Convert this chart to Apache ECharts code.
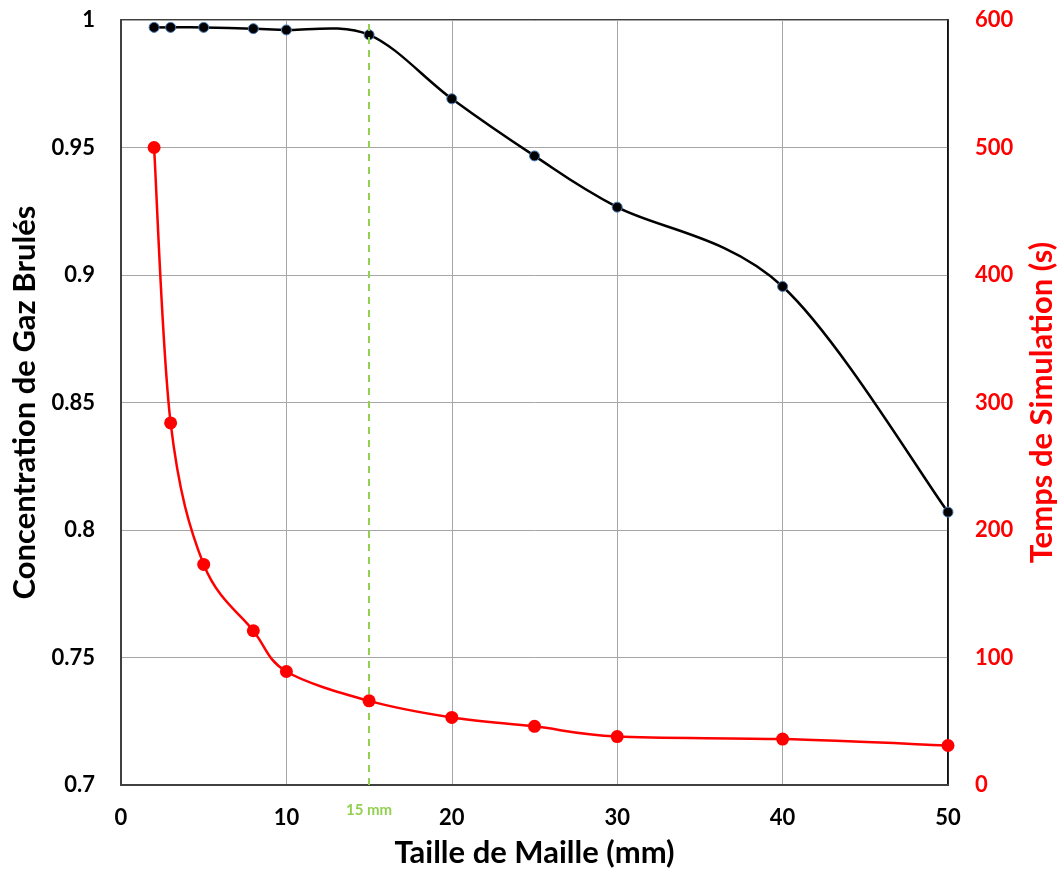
<!DOCTYPE html>
<html><head><meta charset="utf-8">
<script src="https://cdn.jsdelivr.net/npm/echarts@6/dist/echarts.min.js"></script>
<style>html,body{margin:0;padding:0;background:#fff}#c{width:1063px;height:873px}</style>
</head><body><div id="c"></div>
<script>
const meshSizes = [2, 3, 5, 8, 10, 15, 20, 25, 30, 40, 50];
const concentration = [0.9971, 0.9971, 0.9971, 0.9966, 0.9961, 0.9942, 0.9691, 0.9467, 0.9266, 0.8955, 0.807];
const simTime = [500, 284, 173, 121, 89, 66, 53, 46, 38, 36, 31];
const refMesh = 15;
const refLabel = '15 mm';
const xTitle = 'Taille de Maille (mm)';
const yLeftTitle = 'Concentration de Gaz Brulés';
const yRightTitle = 'Temps de Simulation (s)';

const FONT = 'Lato';
const TICK = 22, TITLE = 31;

// Excel-like smoothed line (Catmull-Rom Bezier) drawn in pixel space via the axes
function smoothRenderer(xs, ys, color, width) {
  return function (params, api) {
    const n = xs.length, i = params.dataIndex;
    if (i >= n - 1) return null;
    const p = k => api.coord([xs[k], ys[k]]);
    const P0 = p(Math.max(i - 1, 0)), P1 = p(i), P2 = p(i + 1), P3 = p(Math.min(i + 2, n - 1));
    return {
      type: 'bezierCurve',
      shape: {
        x1: P1[0], y1: P1[1], x2: P2[0], y2: P2[1],
        cpx1: P1[0] + (P2[0] - P0[0]) / 6, cpy1: P1[1] + (P2[1] - P0[1]) / 6,
        cpx2: P2[0] - (P3[0] - P1[0]) / 6, cpy2: P2[1] - (P3[1] - P1[1]) / 6
      },
      style: { stroke: color, lineWidth: width, fill: null }
    };
  };
}

const chart = echarts.init(document.getElementById('c'));
chart.setOption({
  animation: false,
  backgroundColor: '#fff',
  textStyle: { fontFamily: FONT },
  grid: { left: 121, right: 115, top: 20, bottom: 88, show: true, borderColor: '#000', borderWidth: 1.5,
    containLabel: false, outerBoundsMode: 'none' },
  xAxis: {
    type: 'value', min: 0, max: 50, interval: 10,
    name: xTitle, nameLocation: 'middle', nameGap: 52,
    nameTextStyle: { fontFamily: FONT, fontWeight: 'bold', fontSize: TITLE, color: '#000' },
    axisLine: { show: true, lineStyle: { color: '#404040', width: 2 } },
    axisTick: { show: false },
    axisLabel: { fontFamily: FONT, fontWeight: 'bold', fontSize: TICK, color: '#000', margin: 22 },
    splitLine: { show: true, lineStyle: { color: '#a6a6a6', width: 1 } }
  },
  yAxis: [{
    type: 'value', min: 0.7, max: 1, interval: 0.05,
    name: yLeftTitle, nameLocation: 'middle', nameGap: 79, nameRotate: 90,
    nameTextStyle: { fontFamily: FONT, fontWeight: 'bold', fontSize: TITLE, color: '#000' },
    axisLine: { show: true, lineStyle: { color: '#404040', width: 2 } },
    axisTick: { show: false },
    axisLabel: { fontFamily: FONT, fontWeight: 'bold', fontSize: TICK, color: '#000', margin: 26,
      formatter: v => String(Math.round(v * 100) / 100) },
    splitLine: { show: true, lineStyle: { color: '#a6a6a6', width: 1 } }
  }, {
    type: 'value', min: 0, max: 600, interval: 100, position: 'right',
    name: yRightTitle, nameLocation: 'middle', nameGap: 78, nameRotate: 90,
    nameTextStyle: { fontFamily: FONT, fontWeight: 'bold', fontSize: TITLE, color: '#ff0000' },
    axisLine: { show: true, lineStyle: { color: '#000', width: 1.5 } },
    axisTick: { show: false },
    axisLabel: { fontFamily: FONT, fontWeight: 'bold', fontSize: TICK, color: '#ff0000', margin: 27 },
    splitLine: { show: false }
  }],
  series: [{
    type: 'custom', yAxisIndex: 0,
    data: meshSizes.map((x, i) => [x, concentration[i]]),
    encode: { x: 0, y: 1 },
    renderItem: smoothRenderer(meshSizes, concentration, '#000', 2.5),
    markLine: {
      silent: true, symbol: 'none',
      lineStyle: { color: '#92D050', type: [7, 6], width: 2 },
      label: { show: true, position: 'start', formatter: refLabel, color: '#92D050',
        fontFamily: FONT, fontWeight: 'bold', fontSize: 15, distance: 18 },
      data: [{ xAxis: refMesh }]
    },
    z: 3
  }, {
    type: 'scatter', yAxisIndex: 0,
    data: meshSizes.map((x, i) => [x, concentration[i]]),
    symbol: 'circle', symbolSize: 10,
    itemStyle: { color: '#000', borderColor: '#4a7ebb', borderWidth: 1, opacity: 1 },
    z: 4
  }, {
    type: 'custom', yAxisIndex: 1,
    data: meshSizes.map((x, i) => [x, simTime[i]]),
    encode: { x: 0, y: 1 },
    renderItem: smoothRenderer(meshSizes, simTime, '#ff0000', 2.5),
    z: 5
  }, {
    type: 'scatter', yAxisIndex: 1,
    data: meshSizes.map((x, i) => [x, simTime[i]]),
    symbol: 'circle', symbolSize: 13,
    itemStyle: { color: '#ff0000', opacity: 1 },
    z: 6
  }]
});
</script>
</body></html>
